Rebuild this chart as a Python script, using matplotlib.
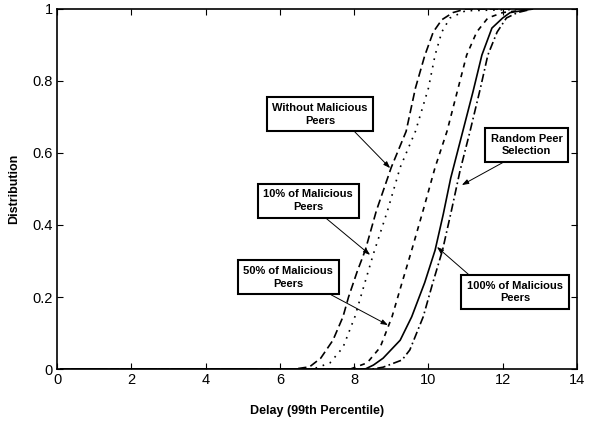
import matplotlib
matplotlib.use("Agg")
import matplotlib.pyplot as plt

plt.rcParams["font.family"] = ["Liberation Sans", "DejaVu Sans"]

# CDF of the 99th percentile delay for each peer selection setting
without_x = [0.1, 6.4, 6.8, 7.1, 7.43, 7.7, 7.85, 8.08, 8.3, 8.6, 9.0, 9.4, 9.65, 9.9, 10.13, 10.36, 10.66, 11.0, 12.8]
without_y = [0, 0, 0.006, 0.03, 0.08, 0.145, 0.2, 0.27, 0.33, 0.44, 0.56, 0.66, 0.78, 0.87, 0.936, 0.97, 0.99, 1.0, 1.0]

mal10_x = [0.1, 6.9, 7.35, 7.7, 8.02, 8.29, 8.52, 8.9, 9.24, 9.65, 10.0, 10.18, 10.36, 10.58, 11.0, 12.8]
mal10_y = [0, 0, 0.017, 0.06, 0.145, 0.24, 0.32, 0.44, 0.56, 0.66, 0.78, 0.872, 0.936, 0.975, 0.995, 1.0]

mal50_x = [0.1, 7.9, 8.35, 8.7, 9.02, 9.29, 9.55, 9.87, 10.18, 10.5, 10.8, 11.03, 11.3, 11.6, 12.0, 12.8]
mal50_y = [0, 0, 0.017, 0.06, 0.145, 0.24, 0.33, 0.445, 0.56, 0.66, 0.78, 0.872, 0.936, 0.975, 0.99, 1.0]

mal100_x = [0.1, 8.3, 8.52, 8.78, 9.24, 9.55, 9.9, 10.18, 10.4, 10.6, 10.9, 11.2, 11.44, 11.71, 12.0, 12.2, 12.8]
mal100_y = [0, 0, 0.011, 0.03, 0.08, 0.145, 0.24, 0.33, 0.43, 0.53, 0.65, 0.77, 0.872, 0.947, 0.975, 0.99, 1.0]

random_x = [0.1, 8.5, 8.78, 9.29, 9.5, 9.86, 10.12, 10.38, 10.62, 10.85, 11.12, 11.4, 11.6, 11.85, 12.1, 12.4, 12.8]
random_y = [0, 0, 0.005, 0.025, 0.053, 0.145, 0.24, 0.33, 0.44, 0.55, 0.66, 0.78, 0.872, 0.936, 0.975, 0.99, 1.0]

x_ticks = [0, 2, 4, 6, 8, 10, 12, 14]
y_ticks = [0, 0.2, 0.4, 0.6, 0.8, 1]
y_tick_labels = ["0", "0.2", "0.4", "0.6", "0.8", "1"]

fig = plt.figure(figsize=(5.95, 4.24), dpi=100)
ax = fig.add_axes([0.0958, 0.1297, 0.8739, 0.8491])

lw = 1.2
ax.plot(without_x, without_y, color="black", lw=lw, linestyle=(0, (5, 2.5)))
ax.plot(mal10_x, mal10_y, color="black", lw=lw, linestyle=(0, (1, 3.5)))
ax.plot(mal50_x, mal50_y, color="black", lw=lw, linestyle=(0, (3, 3)))
ax.plot(mal100_x, mal100_y, color="black", lw=lw, linestyle="-")
ax.plot(random_x, random_y, color="black", lw=lw, linestyle=(0, (5, 2, 1, 2)))

ax.set_xlim(0, 14)
ax.set_ylim(0, 1)
ax.set_xticks(x_ticks)
ax.set_yticks(y_ticks)
ax.set_yticklabels(y_tick_labels)
ax.tick_params(direction="in", top=True, right=True, length=4, width=0.8,
               labelsize=10.5, pad=3)
for s in ax.spines.values():
    s.set_linewidth(1.2)

ax.set_xlabel("Delay (99th Percentile)", fontsize=9, fontweight="bold", labelpad=13)
ax.set_ylabel("Distribution", fontsize=9, fontweight="bold", labelpad=9)

# boxed callouts with arrows onto the curves
notes = [
    ("Without Malicious\nPeers", (8.97, 0.558), (7.08, 0.708), (0.8, 0)),
    ("10% of Malicious\nPeers", (8.43, 0.317), (6.76, 0.467), (0.62, 0)),
    ("50% of Malicious\nPeers", (8.91, 0.122), (6.22, 0.255), (0.85, 0)),
    ("Random Peer\nSelection", (10.9, 0.511), (12.65, 0.622), (0.32, 0)),
    ("100% of Malicious\nPeers", (10.23, 0.339), (12.33, 0.214), (0.09, 1)),
]
for label, tip, pos, rp in notes:
    ax.annotate(label, xy=tip, xytext=pos, textcoords="data",
                ha="center", va="center", multialignment="center",
                fontsize=8, fontweight="bold", linespacing=1.35,
                bbox=dict(boxstyle="square,pad=0.5", fc="white", ec="black", lw=1.5),
                arrowprops=dict(arrowstyle="-|>,head_length=0.5,head_width=0.18",
                                color="black", lw=0.7, relpos=rp,
                                shrinkA=0, shrinkB=0))

fig.savefig("out.png", dpi=100)
